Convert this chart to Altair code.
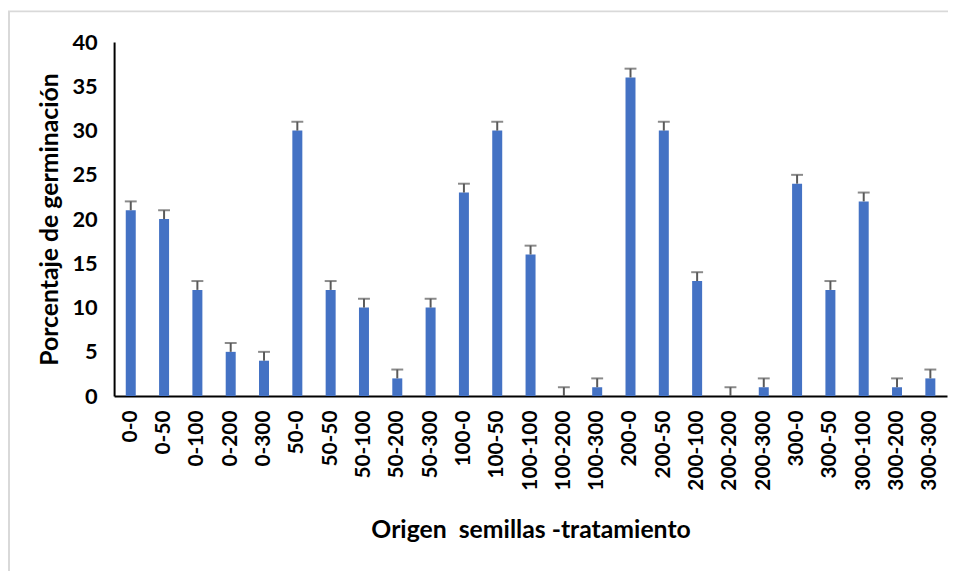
import altair as alt
import pandas as pd

categories = ["0-0", "0-50", "0-100", "0-200", "0-300",
              "50-0", "50-50", "50-100", "50-200", "50-300",
              "100-0", "100-50", "100-100", "100-200", "100-300",
              "200-0", "200-50", "200-100", "200-200", "200-300",
              "300-0", "300-50", "300-100", "300-200", "300-300"]
values = [21, 20, 12, 5, 4,
          30, 12, 10, 2, 10,
          23, 30, 16, 0, 1,
          36, 30, 13, 0, 1,
          24, 12, 22, 1, 2]
errors = [1, 1, 1, 1, 1,
          1, 1, 1, 1, 1,
          1, 1, 1, 1, 1,
          1, 1, 1, 1, 1,
          1, 1, 1, 1, 1]
y_ticks = [0, 5, 10, 15, 20, 25, 30, 35, 40]

df = pd.DataFrame({"cat": categories, "val": values, "err": errors})
df["top"] = df["val"] + df["err"]

FONT = "Lato"

xscale = alt.Scale(paddingInner=0.7, paddingOuter=0.35)
x = alt.X("cat:N", sort=categories, scale=xscale,
          title="Origen\u00a0 semillas -tratamiento",
          axis=alt.Axis(labelAngle=-90, labelFont=FONT, labelFontSize=21,
                        labelFontWeight="bold", labelColor="#000000",
                        labelPadding=14, ticks=False,
                        domainColor="#000000", domainWidth=2,
                        titleFont=FONT, titleFontSize=25, titleFontWeight="bold",
                        titleColor="#000000", titlePadding=28))

yscale = alt.Scale(domain=[0, 40], nice=False)
y = alt.Y("val:Q", scale=yscale, title="Porcentaje de germinación",
          axis=alt.Axis(values=y_ticks, grid=False, ticks=False,
                        labelFont=FONT, labelFontSize=22, labelFontWeight="bold",
                        labelColor="#000000", labelPadding=17,
                        domainColor="#000000", domainWidth=2,
                        titleFont=FONT, titleFontSize=25, titleFontWeight="bold",
                        titleColor="#000000", titlePadding=10))

base = alt.Chart(df)

bars = base.mark_bar(color="#4472C4").encode(x=x, y=y)

rules = base.mark_rule(color="#595959", strokeWidth=2).encode(
    x=alt.X("cat:N", sort=categories, scale=xscale),
    y=alt.Y("val:Q", scale=yscale),
    y2="top:Q",
)

caps = base.mark_tick(color="#595959", thickness=2, size=12, orient="horizontal").encode(
    x=alt.X("cat:N", sort=categories, scale=xscale),
    y=alt.Y("top:Q", scale=yscale),
)

frame = alt.Chart(pd.DataFrame({"a": [0]})).mark_rect(
    fill=None, stroke="#d9d9d9", strokeWidth=2, clip=False
).encode(x=alt.value(-106), x2=alt.value(900), y=alt.value(-31), y2=alt.value(700))

chart = alt.layer(frame, bars, rules, caps).properties(
    width=840, height=357,
    autosize=alt.AutoSizeParams(type="none"),
    padding={"left": 107, "top": 32, "right": 1, "bottom": 174},
    background="white",
).configure_view(stroke=None)

chart.save("out.html", embed_options={"renderer": "svg", "actions": False})
